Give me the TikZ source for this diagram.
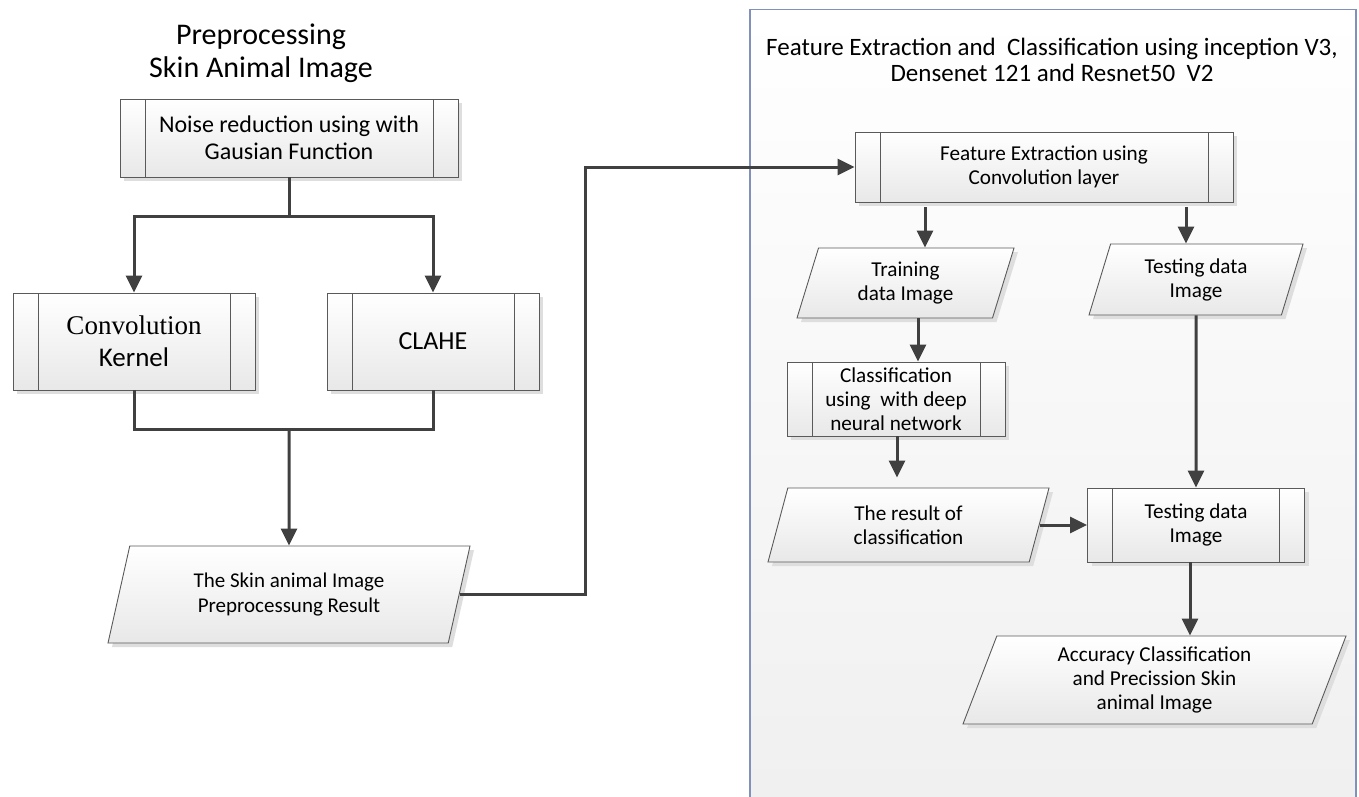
\documentclass[tikz,border=0pt]{standalone}
\usepackage{fontspec}
\setmainfont{Carlito}
\newfontfamily\timesfont{Liberation Serif}
\usetikzlibrary{positioning, arrows.meta, shapes.geometric, shadows}

\definecolor{lineclr}{HTML}{404040}
\definecolor{boxclr}{HTML}{5A5A5A}
\definecolor{panelclr}{HTML}{8290BC}

\begin{document}
\begin{tikzpicture}[
        x=1pt, y=-1pt,
        shade_box/.style={draw=boxclr, line width=0.9pt, top color=white, bottom color=black!9, align=center, inner sep=0pt,
            drop shadow={shadow xshift=4pt, shadow yshift=-4pt, fill=black!13, opacity=1}},
        process/.style={shade_box, rectangle,
            path picture={
                \draw[boxclr, line width=0.9pt] ([xshift=25pt]path picture bounding box.north west) -- ([xshift=25pt]path picture bounding box.south west);
                \draw[boxclr, line width=0.9pt] ([xshift=-25pt]path picture bounding box.north east) -- ([xshift=-25pt]path picture bounding box.south east);
            }},
        data/.style={shade_box, trapezium, trapezium left angle=63, trapezium right angle=117, trapezium stretches body},
        arrow/.style={-{Triangle[length=17pt, width=16pt]}, line width=3pt, draw=lineclr},
        link/.style={line width=3pt, draw=lineclr},
        left_text/.style={font=\fontsize{24}{27}\selectfont},
        right_text/.style={font=\fontsize{21.2}{24}\selectfont}
    ]
        \useasboundingbox (0,0) rectangle (1359,796);

        % panel on the right
        \draw[draw=panelclr, line width=1.5pt, top color=white, bottom color=black!6] (750,9.5) rectangle (1356,810);

        % preprocessing side
        \node[font=\fontsize{30}{33}\selectfont, align=center] (prepTitle) at (261,53) {Preprocessing\\Skin Animal Image};
        \node[process, left_text, minimum width=338, minimum height=78] (noise) at (289,138) {Noise reduction using with\\Gausian Function};
        \node[process, font=\fontsize{27}{32}\selectfont, minimum width=242, minimum height=97] (conv) at (134,341.5) {{\timesfont Convolution}\\Kernel};
        \node[process, font=\fontsize{26}{32}\selectfont, minimum width=212, minimum height=97] (clahe) at (433,341.5) {CLAHE};
        \node[data, font=\fontsize{21}{24.5}\selectfont, minimum width=362, minimum height=97] (prep) at (289,594.5) {The Skin animal Image\\Preprocessung Result};

        % feature extraction and classification side
        \node[font=\fontsize{25}{26.7}\selectfont, align=center] (featTitle) at (1052,60) {Feature Extraction and\ \ Classification using inception V3,\\Densenet 121 and Resnet50\ \ V2};
        \node[process, right_text, minimum width=378, minimum height=70] (feature) at (1044,167) {Feature Extraction using\\Convolution layer};
        \node[data, right_text, minimum width=217, minimum height=70] (train) at (905.5,283) {Training\\data Image};
        \node[data, right_text, minimum width=214, minimum height=71] (test) at (1196,279.5) {Testing data\\Image};
        \node[process, right_text, minimum width=218, minimum height=74] (cls) at (896,399) {Classification\\using\ \ with deep\\neural network};
        \node[data, right_text, minimum width=281, minimum height=74] (result) at (908.5,525) {The result of\\classification};
        \node[process, right_text, minimum width=217, minimum height=74] (testbox) at (1196,525) {Testing data\\Image};
        \node[data, right_text, minimum width=383, minimum height=88] (acc) at (1154.5,680) {Accuracy Classification\\and Precission Skin\\animal Image};

        \coordinate (split) at (289,216);
        \coordinate (join) at (289,429);
        \coordinate (bend) at (585,167);
        \coordinate (ltrack) at (925,0);
        \coordinate (rtrack) at (1186,0);
        \coordinate (ctrack) at (918,0);
        \coordinate (dtrack) at (897,0);
        \coordinate (atrack) at (1190,0);

        \draw[link] (noise.south) -- (split);
        \draw[arrow] (split) -| (conv.north);
        \draw[arrow] (split) -| (clahe.north);
        \draw[link] (conv.south) |- (join) -| (clahe.south);
        \draw[arrow] (join) -- (prep.north);
        \draw[arrow] (prep.right side) -| (bend) -- (feature.west);

        \draw[arrow, shorten <=5pt] (feature.south -| ltrack) -- (train.north -| ltrack);
        \draw[arrow, shorten <=5pt] (feature.south -| rtrack) -- (test.north -| rtrack);
        \draw[arrow] (train.south -| ctrack) -- (cls.north -| ctrack);
        \draw[arrow, shorten >=10pt] (cls.south -| dtrack) -- (result.north -| dtrack);
        \draw[arrow] (test.south) -- (testbox.north);
        \draw[arrow] (result.right side) -- (testbox.west);
        \draw[arrow] (testbox.south -| atrack) -- (acc.north -| atrack);

    \end{tikzpicture}
\end{document}
